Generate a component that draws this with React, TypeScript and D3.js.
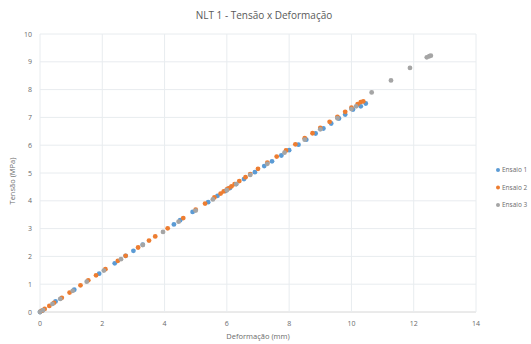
import { useEffect, useRef } from 'react';
import * as d3 from 'd3';

// Ensaio 1 (blue)
const ensaio1X = [0, 0.08, 0.5, 1.1, 1.9, 2.4, 2.75, 3.0, 3.3, 4.3, 4.5, 4.9, 5.4, 5.7, 5.95, 6.1, 6.3, 6.55, 6.9, 7.2, 7.45, 7.75, 8.0, 8.3, 8.55, 8.85, 9.1, 9.35, 9.6, 9.8, 10.05, 10.3, 10.46];
const ensaio1Y = [0, 0.05, 0.38, 0.8, 1.38, 1.75, 2.02, 2.2, 2.42, 3.15, 3.3, 3.6, 3.95, 4.18, 4.35, 4.46, 4.6, 4.78, 5.03, 5.25, 5.42, 5.63, 5.82, 6.02, 6.2, 6.42, 6.6, 6.78, 6.96, 7.1, 7.28, 7.4, 7.5];

// Ensaio 2 (orange)
const ensaio2X = [0.05, 0.15, 0.3, 0.45, 0.7, 0.95, 1.3, 1.55, 1.8, 2.1, 2.5, 2.75, 3.15, 3.5, 3.7, 4.1, 4.6, 5.0, 5.3, 5.6, 5.8, 5.9, 6.0, 6.05, 6.15, 6.25, 6.4, 6.6, 6.75, 7.0, 7.3, 7.6, 7.9, 8.2, 8.5, 8.75, 9.0, 9.3, 9.55, 9.8, 10.0, 10.2, 10.3, 10.38];
const ensaio2Y = [0.04, 0.11, 0.22, 0.33, 0.51, 0.7, 0.96, 1.14, 1.32, 1.54, 1.84, 2.02, 2.32, 2.57, 2.72, 3.01, 3.38, 3.68, 3.9, 4.12, 4.26, 4.34, 4.41, 4.45, 4.52, 4.6, 4.71, 4.85, 4.96, 5.15, 5.37, 5.59, 5.81, 6.03, 6.25, 6.43, 6.62, 6.84, 7.02, 7.2, 7.35, 7.48, 7.55, 7.58];

// Ensaio 3 (grey)
const ensaio3X = [0, 0.1, 0.4, 0.65, 1.05, 1.5, 2.05, 2.6, 3.3, 3.95, 4.45, 5.0, 5.55, 6.0, 6.3, 6.75, 7.3, 7.85, 8.5, 9.0, 9.55, 10.0, 10.15, 10.65, 11.27, 11.88, 12.42, 12.5, 12.55];
const ensaio3Y = [0, 0.07, 0.29, 0.47, 0.76, 1.09, 1.49, 1.9, 2.41, 2.88, 3.25, 3.65, 4.05, 4.38, 4.6, 4.93, 5.33, 5.73, 6.2, 6.57, 6.97, 7.3, 7.4, 7.9, 8.33, 8.78, 9.16, 9.2, 9.22];

const seriesNames = ['Ensaio 1', 'Ensaio 2', 'Ensaio 3'];
const seriesColors = ['#5B9BD5', '#ED7D31', '#A5A5A5'];
const xTicks = [0, 2, 4, 6, 8, 10, 12, 14];
const yTicks = [0, 1, 2, 3, 4, 5, 6, 7, 8, 9, 10];

const width = 531;
const height = 344;

export default function App() {
  const svgRef = useRef<SVGSVGElement>(null);

  useEffect(() => {
    if (!svgRef.current) return;
    const svg = d3.select(svgRef.current);
    svg.selectAll('*').remove();

    const left = 40, right = 476, top = 34, bottom = 312;
    const font = '"Open Sans", "Liberation Sans", sans-serif';
    const textColor = '#6b6b6b';

    const x = d3.scaleLinear().domain([0, 14]).range([left, right]);
    const y = d3.scaleLinear().domain([0, 10]).range([bottom, top]);

    svg.append('rect').attr('width', width).attr('height', height).attr('fill', '#fff');

    // Gridlines
    svg.append('g')
      .selectAll('line.h')
      .data(yTicks)
      .enter()
      .append('line')
      .attr('x1', left).attr('x2', right)
      .attr('y1', d => y(d)).attr('y2', d => y(d))
      .attr('stroke', d => (d === 0 ? '#d6d6d6' : '#e8ecef'))
      .attr('stroke-width', 1);

    svg.append('g')
      .selectAll('line.v')
      .data(xTicks)
      .enter()
      .append('line')
      .attr('x1', d => x(d)).attr('x2', d => x(d))
      .attr('y1', top).attr('y2', bottom)
      .attr('stroke', '#e8ecef')
      .attr('stroke-width', 1);

    // Tick labels
    svg.append('g')
      .selectAll('text')
      .data(yTicks)
      .enter()
      .append('text')
      .attr('x', left - 8)
      .attr('y', d => y(d) + 2.5)
      .attr('text-anchor', 'end')
      .style('font-family', font)
      .style('font-size', '7px')
      .attr('fill', textColor)
      .text(d => d);

    svg.append('g')
      .selectAll('text')
      .data(xTicks)
      .enter()
      .append('text')
      .attr('x', d => x(d))
      .attr('y', bottom + 14)
      .attr('text-anchor', 'middle')
      .style('font-family', font)
      .style('font-size', '7px')
      .attr('fill', textColor)
      .text(d => d);

    // Series
    const allSeries = [
      ensaio1X.map((v, i) => [v, ensaio1Y[i]]),
      ensaio2X.map((v, i) => [v, ensaio2Y[i]]),
      ensaio3X.map((v, i) => [v, ensaio3Y[i]]),
    ];

    // draw grey first is not Excel order; Excel draws 1, 2, 3
    allSeries.forEach((pts, si) => {
      svg.append('g')
        .selectAll('circle')
        .data(pts)
        .enter()
        .append('circle')
        .attr('cx', d => x(d[0]))
        .attr('cy', d => y(d[1]))
        .attr('r', 2.4)
        .attr('fill', seriesColors[si]);
    });

    // Title
    svg.append('text')
      .attr('x', 264)
      .attr('y', 19)
      .attr('text-anchor', 'middle')
      .style('font-family', font)
      .style('font-size', '10px')
      .attr('fill', '#595959')
      .text('NLT 1 - Tensão  x Deformação');

    // Axis titles
    svg.append('text')
      .attr('x', 258)
      .attr('y', 339)
      .attr('text-anchor', 'middle')
      .style('font-family', font)
      .style('font-size', '7.5px')
      .attr('fill', textColor)
      .text('Deformação (mm)');

    svg.append('text')
      .attr('transform', `translate(15,${(top + bottom) / 2 + 8}) rotate(-90)`)
      .attr('text-anchor', 'middle')
      .style('font-family', font)
      .style('font-size', '7.5px')
      .attr('fill', textColor)
      .text('Tensão (MPa)');

    // Legend
    const legend = svg.append('g');
    seriesNames.forEach((name, i) => {
      const ly = 170 + i * 17.5;
      legend.append('circle')
        .attr('cx', 498)
        .attr('cy', ly)
        .attr('r', 2)
        .attr('fill', seriesColors[i]);
      legend.append('text')
        .attr('x', 502)
        .attr('y', ly + 2.3)
        .style('font-family', font)
        .style('font-size', '6.5px')
        .attr('fill', textColor)
        .text(name);
    });
  }, []);

  return (
    <svg
      ref={svgRef}
      width={width}
      height={height}
      style={{ position: 'absolute', left: 0, top: 0, display: 'block' }}
    />
  );
}
